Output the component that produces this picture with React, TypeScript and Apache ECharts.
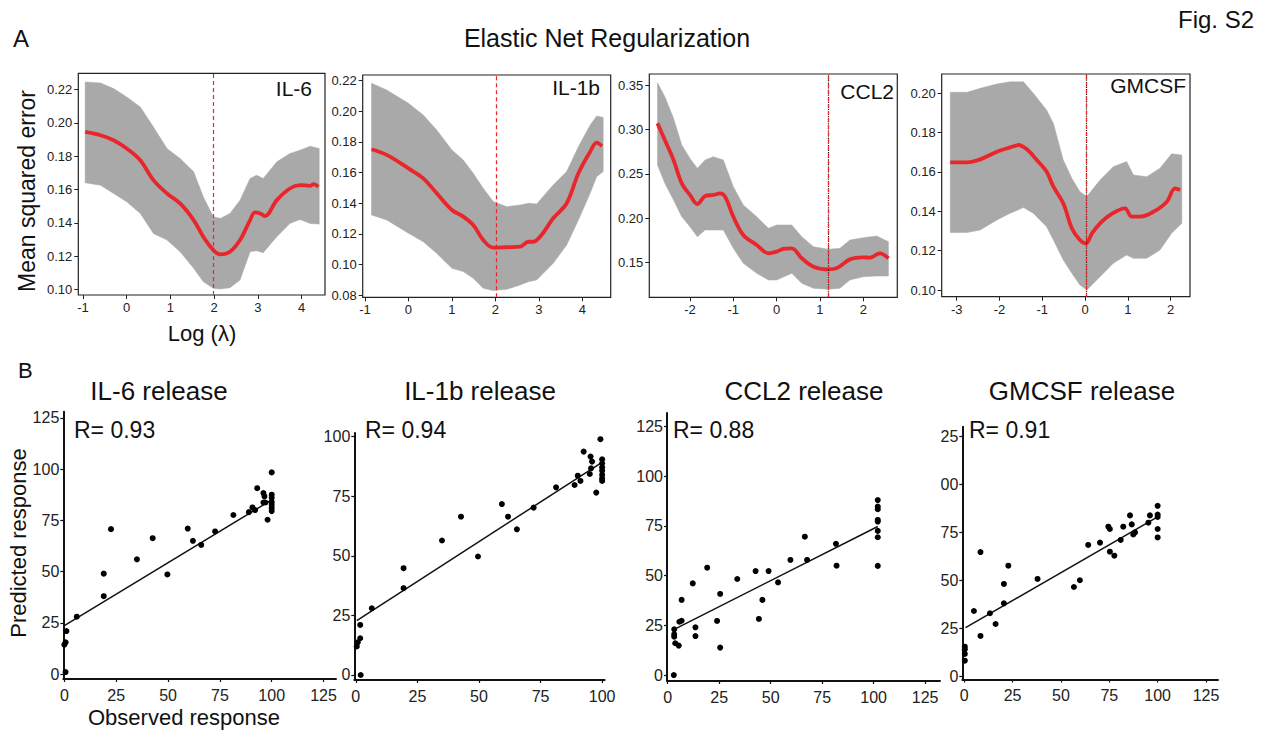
import React, { useEffect, useRef } from "react";
import * as echarts from "echarts";

const FONT = "'Liberation Sans', Arial, Helvetica, sans-serif";
const RED = "#e8262b";
const BAND = "#a9a9a9";
const INK = "#111111";

// ---------- Panel A: Elastic net CV curves ----------
const il6LineX = [-0.95, -0.6, -0.3, 0, 0.31, 0.61, 0.92, 1.22, 1.53, 1.75, 1.98, 2.14, 2.36, 2.59, 2.82, 2.93, 3.05, 3.16, 3.43, 3.73, 3.96, 4.19, 4.27, 4.38];
const il6LineY = [0.1946, 0.1926, 0.1896, 0.1846, 0.1776, 0.1656, 0.1576, 0.1516, 0.1416, 0.1316, 0.1236, 0.121, 0.1226, 0.1296, 0.1416, 0.1462, 0.1456, 0.144, 0.1536, 0.1606, 0.1626, 0.1622, 0.1632, 0.1616];
const il6BandX = [-0.95, -0.6, -0.3, 0, 0.31, 0.61, 0.92, 1.22, 1.53, 1.75, 1.98, 2.14, 2.36, 2.59, 2.82, 2.97, 3.12, 3.43, 3.73, 3.96, 4.19, 4.4];
const il6Upper = [0.2246, 0.224, 0.2206, 0.2156, 0.2096, 0.1976, 0.1846, 0.1786, 0.1706, 0.1556, 0.1436, 0.1426, 0.1456, 0.1536, 0.1666, 0.1686, 0.1666, 0.1766, 0.1816, 0.1836, 0.186, 0.1846];
const il6Lower = [0.164, 0.1626, 0.1576, 0.1526, 0.1456, 0.1336, 0.1296, 0.1226, 0.1126, 0.1046, 0.1006, 0.1002, 0.101, 0.1056, 0.1226, 0.1232, 0.122, 0.1316, 0.1396, 0.142, 0.1396, 0.1392];
const il6Lambda = 1.98;

const il1bLineX = [-0.85, -0.5, 0, 0.34, 0.65, 1, 1.26, 1.49, 1.72, 1.95, 2.26, 2.57, 2.76, 2.87, 3.06, 3.33, 3.64, 3.91, 4.18, 4.33, 4.45];
const il1bLineY = [0.1752, 0.1715, 0.1627, 0.1562, 0.1464, 0.1355, 0.1312, 0.1257, 0.1159, 0.1109, 0.1112, 0.1116, 0.1148, 0.1148, 0.1192, 0.1301, 0.1399, 0.1595, 0.1736, 0.1795, 0.1773];
const il1bBandX = [-0.85, -0.5, 0, 0.34, 0.65, 1, 1.26, 1.49, 1.72, 1.95, 2.26, 2.57, 2.76, 2.95, 3.33, 3.64, 3.91, 4.18, 4.33, 4.48];
const il1bUpper = [0.2183, 0.2139, 0.2052, 0.1976, 0.1878, 0.1747, 0.1682, 0.1595, 0.1497, 0.141, 0.1377, 0.1388, 0.1399, 0.1395, 0.1519, 0.1606, 0.1769, 0.191, 0.1969, 0.196];
const il1bLower = [0.1323, 0.129, 0.1203, 0.1148, 0.1072, 0.0974, 0.0953, 0.0909, 0.0844, 0.0829, 0.0837, 0.0866, 0.0887, 0.0898, 0.1007, 0.1127, 0.129, 0.1464, 0.1573, 0.1606];
const il1bLambda = 2.02;

const ccl2LineX = [-2.75, -2.58, -2.38, -2.19, -2, -1.83, -1.65, -1.46, -1.31, -1.19, -1, -0.77, -0.46, -0.19, 0, 0.15, 0.35, 0.58, 0.85, 1.19, 1.38, 1.69, 2, 2.15, 2.38, 2.58];
const ccl2LineY = [0.3069, 0.2881, 0.2656, 0.2393, 0.2262, 0.216, 0.225, 0.2262, 0.228, 0.2243, 0.2018, 0.1811, 0.1699, 0.1605, 0.1624, 0.1654, 0.1661, 0.1549, 0.1455, 0.1425, 0.1436, 0.1537, 0.156, 0.1556, 0.1605, 0.1549];
const ccl2BandX = [-2.75, -2.58, -2.38, -2.19, -2, -1.83, -1.65, -1.46, -1.23, -1, -0.77, -0.46, -0.19, 0, 0.35, 0.58, 0.85, 1.19, 1.46, 1.69, 2, 2.31, 2.58];
const ccl2Upper = [0.3526, 0.3369, 0.3125, 0.2825, 0.2674, 0.2562, 0.2656, 0.2693, 0.2656, 0.2355, 0.2149, 0.2018, 0.1886, 0.1924, 0.1924, 0.1792, 0.168, 0.165, 0.1661, 0.1755, 0.1781, 0.18, 0.1736];
const ccl2Lower = [0.26, 0.2393, 0.2205, 0.2018, 0.1905, 0.1792, 0.1868, 0.1868, 0.1868, 0.1661, 0.1492, 0.138, 0.1305, 0.1305, 0.138, 0.1267, 0.1211, 0.12, 0.1211, 0.1305, 0.1342, 0.135, 0.135];
const ccl2Lambda = 1.18;

const gmcsfLineX = [-3.15, -2.76, -2.45, -2.06, -1.75, -1.56, -1.36, -1.13, -0.9, -0.74, -0.51, -0.31, -0.12, 0.02, 0.16, 0.35, 0.58, 0.93, 1.09, 1.29, 1.6, 1.91, 2.1, 2.22];
const gmcsfLineY = [0.1649, 0.1649, 0.1664, 0.1703, 0.1725, 0.1737, 0.1715, 0.1661, 0.1602, 0.1525, 0.1441, 0.1314, 0.1254, 0.1237, 0.1288, 0.1339, 0.1381, 0.1415, 0.1373, 0.1373, 0.1398, 0.1449, 0.1517, 0.1508];
const gmcsfBandX = [-3.15, -2.76, -2.45, -2.06, -1.75, -1.44, -1.21, -0.9, -0.74, -0.51, -0.31, -0.12, 0.04, 0.35, 0.66, 0.97, 1.13, 1.44, 1.75, 2.02, 2.26];
const gmcsfUpper = [0.2005, 0.2005, 0.2025, 0.2047, 0.2058, 0.2058, 0.2, 0.1915, 0.1847, 0.1661, 0.1568, 0.15, 0.1475, 0.1559, 0.1627, 0.1653, 0.1585, 0.1576, 0.1619, 0.1692, 0.1686];
const gmcsfLower = [0.1292, 0.1292, 0.1305, 0.1356, 0.139, 0.1419, 0.139, 0.1322, 0.1254, 0.1153, 0.1085, 0.1025, 0.1, 0.1068, 0.1136, 0.1178, 0.1161, 0.1161, 0.1203, 0.1288, 0.1339];
const gmcsfLambda = 0.03;

const ticksX1 = [-1, 0, 1, 2, 3, 4];
const ticksX3 = [-2, -1, 0, 1, 2];
const ticksX4 = [-3, -2, -1, 0, 1, 2];
const ticksY1 = [0.1, 0.12, 0.14, 0.16, 0.18, 0.2, 0.22];
const ticksY2 = [0.08, 0.1, 0.12, 0.14, 0.16, 0.18, 0.2, 0.22];
const ticksY3 = [0.15, 0.2, 0.25, 0.3, 0.35];
const ticksY4 = [0.1, 0.12, 0.14, 0.16, 0.18, 0.2];

// ---------- Panel B: observed vs predicted ----------
const il6Observed = [0.6, 0, 0.6, 1, 6, 19, 19, 22.5, 35, 42.6, 49.7, 59.5, 62, 66, 72.7, 81.5, 89, 90.7, 92, 93, 96, 96.5, 96, 97, 98, 100, 100, 100, 100, 100, 100, 100];
const il6Predicted = [1, 14.3, 15.5, 21, 28, 38, 49, 70.7, 56, 66.3, 48.6, 71, 65, 63, 69.6, 77.6, 79, 81.3, 80, 90.7, 88.3, 86.7, 83.7, 83.7, 75.3, 98.4, 87.5, 86, 84, 82.5, 81, 79.5];
const il6FitX = [0, 100];
const il6FitY = [23.6, 85];

const il1bObserved = [2, 0.4, 0.8, 1.8, 1.8, 6.5, 19.4, 19.4, 35, 42.7, 49.6, 59.3, 61.8, 65.4, 72.2, 81.3, 88.8, 90.1, 91.2, 92.5, 95.3, 95.9, 95, 95.5, 97.6, 99.3, 100, 100, 100, 100, 100, 100, 100];
const il1bPredicted = [0, 12, 13.7, 15.4, 21, 28, 36.4, 44.8, 56.4, 66.4, 49.7, 71.7, 66.4, 61.1, 70.2, 78.7, 79.7, 83.6, 81.4, 93.7, 91.6, 89.5, 84.3, 86.7, 76.5, 98.9, 90.5, 88.8, 87.1, 85.7, 83.9, 82.4, 81.4];
const il1bFitX = [0.4, 99.3];
const il1bFitY = [22.8, 88.8];

const ccl2Observed = [3, 3.2, 3.2, 3.2, 3.7, 5.4, 5.7, 6.8, 6.8, 12.2, 13.5, 13.5, 19.2, 24, 25.5, 25.5, 33.8, 42.7, 44.3, 46, 49, 53.6, 59.6, 66.6, 67.7, 81.7, 82, 102, 102, 102, 102, 102, 102, 102, 102];
const ccl2Predicted = [0, 23, 20.5, 19.3, 16, 14.8, 26.8, 27.3, 37.8, 46.1, 24, 19.6, 54, 27.2, 40.8, 13.8, 48.3, 52.3, 28.2, 37.8, 52.3, 46.6, 57.9, 69.6, 57.9, 66, 55, 88, 84.7, 83.4, 78, 77.2, 72.5, 69.3, 54.9];
const ccl2FitX = [3.2, 102];
const ccl2FitY = [23, 74.7];

const gmcsfObserved = [0.3, 0.3, 0.3, 0.3, 5, 8.4, 8.4, 13.3, 16.2, 20.5, 20.5, 22.8, 37.9, 56.7, 59.8, 64.1, 70.2, 74.5, 75.3, 75.3, 77.6, 80.9, 82.2, 85.7, 86.6, 87.4, 88.3, 95.2, 96, 100, 100, 100, 100, 100];
const gmcsfPredicted = [15.6, 14.2, 11.8, 8.3, 34.2, 64.9, 21.2, 33, 27.4, 48.3, 38.2, 57.8, 50.9, 46.7, 50.2, 68.6, 69.8, 78.1, 76.9, 65.1, 63, 71.2, 78.1, 84, 79.3, 74.1, 75.1, 80.2, 84, 89, 84.4, 83.2, 76.9, 72.5];
const gmcsfFitX = [0.7, 100];
const gmcsfFitY = [25.5, 83.2];

const respTicks125 = [0, 25, 50, 75, 100, 125];
const respTicks100 = [0, 25, 50, 75, 100];

const panelANames = ["IL-6", "IL-1b", "CCL2", "GMCSF"];
const panelBTitles = ["IL-6 release", "IL-1b release", "CCL2 release", "GMCSF release"];
const panelBR = ["R= 0.93", "R= 0.94", "R= 0.88", "R= 0.91"];

function txt(text: string, x: number, y: number, size: number, align = "center", rot = 0) {
  return {
    type: "text",
    x,
    y,
    rotation: rot,
    silent: true,
    z: 10,
    style: {
      text,
      fontSize: size,
      fontFamily: FONT,
      fill: INK,
      align,
      verticalAlign: "middle",
      textAlign: align,
      textVerticalAlign: "middle",
    },
  };
}

export default function App() {
  const ref = useRef<HTMLDivElement>(null);

  useEffect(() => {
    if (!ref.current) return;
    const chart = echarts.init(ref.current, undefined, { renderer: "svg" });

    const grids: any[] = [];
    const xAxes: any[] = [];
    const yAxes: any[] = [];
    const series: any[] = [];

    const aPanels = [
      { lx: il6LineX, ly: il6LineY, bx: il6BandX, up: il6Upper, lo: il6Lower, lam: il6Lambda, black: false,
        g: [78.3, 73.3, 246.7, 221.7], xr: [-1.107, 4.532], yr: [0.0966, 0.2298], tx: ticksX1, ty: ticksY1 },
      { lx: il1bLineX, ly: il1bLineY, bx: il1bBandX, up: il1bUpper, lo: il1bLower, lam: il1bLambda, black: false,
        g: [362.7, 75, 248, 222.3], xr: [-1.053, 4.653], yr: [0.0785, 0.2237], tx: ticksX1, ty: ticksY2 },
      { lx: ccl2LineX, ly: ccl2LineY, bx: ccl2BandX, up: ccl2Upper, lo: ccl2Lower, lam: ccl2Lambda, black: true,
        g: [649.3, 74, 248, 223.3], xr: [-2.939, 2.785], yr: [0.111, 0.3624], tx: ticksX3, ty: ticksY3 },
      { lx: gmcsfLineX, ly: gmcsfLineY, bx: gmcsfBandX, up: gmcsfUpper, lo: gmcsfLower, lam: gmcsfLambda, black: true,
        g: [941.7, 74, 248.3, 222.7], xr: [-3.35, 2.451], yr: [0.0966, 0.2098], tx: ticksX4, ty: ticksY4 },
    ];

    aPanels.forEach((p) => {
      const idx = grids.length;
      grids.push({
        left: p.g[0], top: p.g[1], width: p.g[2], height: p.g[3],
        show: true, borderColor: "#222", borderWidth: 1.2, backgroundColor: "transparent",
      });
      xAxes.push({
        type: "value", gridIndex: idx, min: p.xr[0], max: p.xr[1],
        axisLine: { show: false, onZero: false },
        axisTick: { show: true, length: 4, customValues: p.tx, lineStyle: { color: "#222", width: 1 } },
        axisLabel: { customValues: p.tx, fontSize: 13, fontFamily: FONT, color: "#222", margin: 6 },
        splitLine: { show: false },
      });
      yAxes.push({
        type: "value", gridIndex: idx, min: p.yr[0], max: p.yr[1],
        axisLine: { show: false, onZero: false },
        axisTick: { show: true, length: 4, customValues: p.ty, lineStyle: { color: "#222", width: 1 } },
        axisLabel: {
          customValues: p.ty, fontSize: 13, fontFamily: FONT, color: "#222", margin: 6,
          formatter: (v: number) => v.toFixed(2),
        },
        splitLine: { show: false },
      });
      series.push({
        type: "custom",
        xAxisIndex: idx, yAxisIndex: idx,
        data: p.bx.map((x, k) => [x, p.lo[k], p.up[k]]),
        encode: { x: 0, y: [1, 2] },
        silent: true,
        z: 1,
        renderItem: (params: any, api: any) => {
          if (params.dataIndexInside !== 0) return { type: "group", children: [] };
          const n = params.dataInsideLength;
          const top: number[][] = [];
          const bottom: number[][] = [];
          for (let k = 0; k < n; k++) {
            top.push(api.coord([api.value(0, k), api.value(2, k)]));
            bottom.push(api.coord([api.value(0, k), api.value(1, k)]));
          }
          return {
            type: "polygon",
            shape: { points: top.concat(bottom.reverse()) },
            style: { fill: BAND, stroke: BAND, lineWidth: 0.5 },
          };
        },
      });
      const mlData: any[] = [];
      if (p.black) mlData.push({ xAxis: p.lam, lineStyle: { color: "#222", type: "dotted", width: 1.2 } });
      mlData.push({ xAxis: p.lam, lineStyle: { color: RED, type: [4, 3], width: 1.2 } });
      series.push({
        type: "line",
        xAxisIndex: idx, yAxisIndex: idx,
        data: p.lx.map((x, k) => [x, p.ly[k]]),
        smooth: 0.35,
        symbol: "none",
        lineStyle: { color: RED, width: 3.8 },
        z: 3,
        silent: true,
        markLine: {
          silent: true, symbol: ["none", "none"], label: { show: false },
          data: mlData,
        },
      });
    });

    const bPanels = [
      { ox: il6Observed, py: il6Predicted, fx: il6FitX, fy: il6FitY,
        g: [63.3, 411.7, 272.7, 267.3], xr: [-0.5, 131], yr: [-2.4, 128], tx: respTicks125, ty: respTicks125, trunc: false },
      { ox: il1bObserved, py: il1bPredicted, fx: il1bFitX, fy: il1bFitY,
        g: [354.3, 433, 250.3, 247], xr: [-0.6, 101], yr: [-2.1, 101.5], tx: respTicks100, ty: respTicks100, trunc: false },
      { ox: ccl2Observed, py: ccl2Predicted, fx: ccl2FitX, fy: ccl2FitY,
        g: [667, 413, 273, 268], xr: [-0.3, 132.2], yr: [-3, 131.8], tx: respTicks125, ty: respTicks125, trunc: false },
      { ox: gmcsfObserved, py: gmcsfPredicted, fx: gmcsfFitX, fy: gmcsfFitY,
        g: [962.3, 426.7, 255.7, 252.8], xr: [-1, 131.2], yr: [-1.5, 130.2], tx: respTicks125, ty: respTicks125, trunc: true },
    ];

    bPanels.forEach((p) => {
      const idx = grids.length;
      grids.push({ left: p.g[0], top: p.g[1], width: p.g[2], height: p.g[3] });
      xAxes.push({
        type: "value", gridIndex: idx, min: p.xr[0], max: p.xr[1],
        axisLine: { show: true, onZero: false, lineStyle: { color: INK, width: 2 } },
        axisTick: { show: true, length: 3, customValues: p.tx, lineStyle: { color: INK, width: 1.2 } },
        axisLabel: { customValues: p.tx, fontSize: 16, fontFamily: FONT, color: "#222", margin: 8 },
        splitLine: { show: false },
      });
      yAxes.push({
        type: "value", gridIndex: idx, min: p.yr[0], max: p.yr[1],
        axisLine: { show: true, onZero: false, lineStyle: { color: INK, width: 2 } },
        axisTick: { show: true, length: 3, customValues: p.ty, lineStyle: { color: INK, width: 1.2 } },
        axisLabel: {
          customValues: p.ty, fontSize: 16, fontFamily: FONT, color: "#222", margin: 4,
          formatter: (v: number) => (p.trunc && v === 125 ? "25" : p.trunc && v === 100 ? "00" : String(v)),
        },
        splitLine: { show: false },
      });
      series.push({
        type: "line",
        xAxisIndex: idx, yAxisIndex: idx,
        data: p.fx.map((x, k) => [x, p.fy[k]]),
        symbol: "none",
        lineStyle: { color: INK, width: 1.5 },
        silent: true,
        z: 2,
      });
      series.push({
        type: "scatter",
        xAxisIndex: idx, yAxisIndex: idx,
        data: p.ox.map((x, k) => [x, p.py[k]]),
        symbolSize: 6,
        itemStyle: { color: "#000", opacity: 1 },
        clip: false,
        silent: true,
        z: 3,
      });
    });

    const graphics: any[] = [
      txt("A", 13, 38, 24, "left"),
      txt("Elastic Net Regularization", 607, 38, 25),
      txt("Fig. S2", 1254, 19, 24, "right"),
      txt("Mean squared error", 27, 191, 23, "center", Math.PI / 2),
      txt("Log (\u03bb)", 202, 333, 22),
      txt(panelANames[0], 312, 88, 21, "right"),
      txt(panelANames[1], 600, 87, 21, "right"),
      txt(panelANames[2], 894, 91, 21, "right"),
      txt(panelANames[3], 1186, 85, 21, "right"),
      txt("B", 18, 370, 22, "left"),
      txt(panelBTitles[0], 159, 391, 26),
      txt(panelBTitles[1], 480, 391, 26),
      txt(panelBTitles[2], 804, 391, 26),
      txt(panelBTitles[3], 1082, 391, 26),
      txt(panelBR[0], 74, 430, 23, "left"),
      txt(panelBR[1], 365, 430, 23, "left"),
      txt(panelBR[2], 673, 430, 23, "left"),
      txt(panelBR[3], 969, 430, 23, "left"),
      txt("Predicted response", 18, 543, 22, "center", Math.PI / 2),
      txt("Observed response", 184, 717, 22),
    ];

    chart.setOption({
      animation: false,
      backgroundColor: "#ffffff",
      textStyle: { fontFamily: FONT },
      grid: grids,
      xAxis: xAxes,
      yAxis: yAxes,
      series,
      graphic: { elements: graphics },
    });

    return () => chart.dispose();
  }, []);

  return (
    <div
      ref={ref}
      style={{ position: "absolute", left: 0, top: 0, width: 1265, height: 733, background: "#fff" }}
    />
  );
}
